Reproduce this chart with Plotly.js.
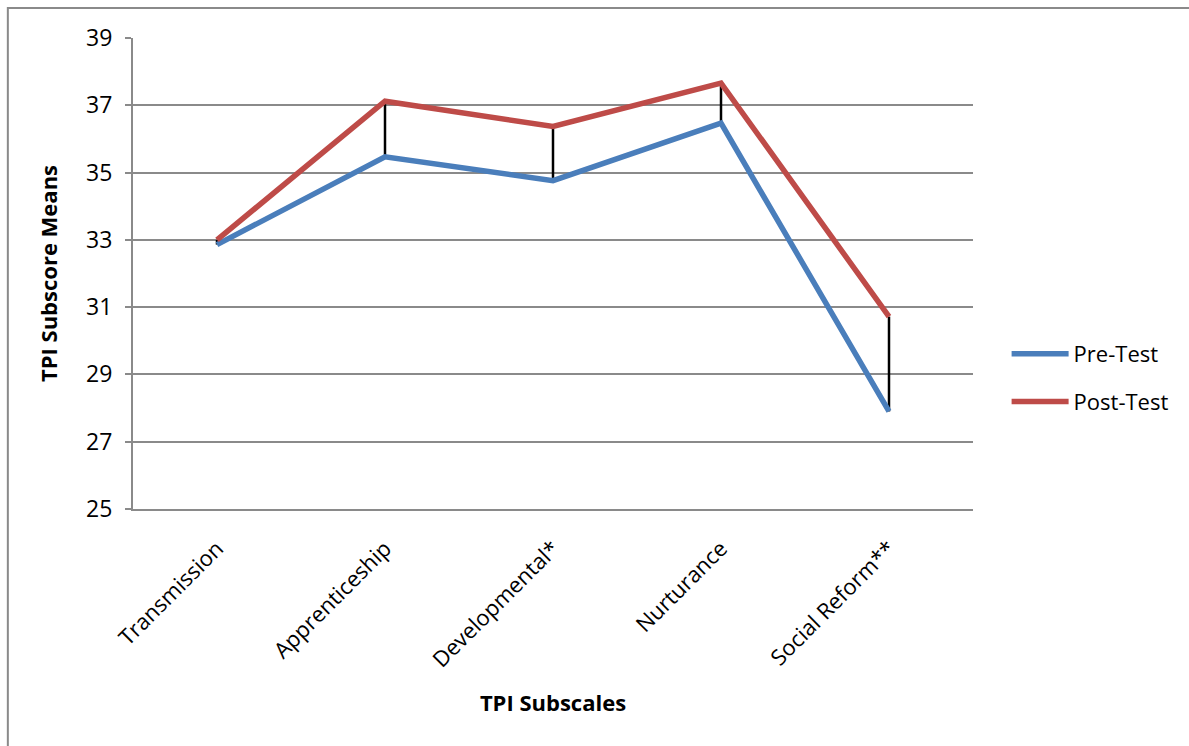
<!DOCTYPE html>
<html>
<head>
<meta charset="utf-8">
<script src="https://cdn.plot.ly/plotly-3.0.1.min.js"></script>
<style>
  html, body { margin: 0; padding: 0; background: #ffffff; }
  #chart { width: 1189px; height: 746px; }
</style>
</head>
<body>
<div id="chart"></div>
<script>
// TPI subscale means before and after the course
const subscales = ['Transmission', 'Apprenticeship', 'Developmental*', 'Nurturance', 'Social Reform**'];
const preTest  = [32.86, 35.47, 34.76, 36.47, 27.90];
const postTest = [33.00, 37.12, 36.37, 37.66, 30.72];
const yTicks = [25, 27, 29, 31, 33, 35, 37, 39];

const FONT = 'Open Sans, Noto Sans, sans-serif';
const GRID = '#8a8a8a';

// vertical connectors between pre and post values for each subscale
const linkX = [];
const linkY = [];
subscales.forEach((s, i) => {
  linkX.push(s, s, null);
  linkY.push(preTest[i], postTest[i], null);
});

const traces = [
  {
    x: linkX, y: linkY, type: 'scatter', mode: 'lines',
    line: { color: '#000000', width: 2.5 },
    showlegend: false, hoverinfo: 'skip'
  },
  {
    x: subscales, y: preTest, type: 'scatter', mode: 'lines', name: 'Pre-Test',
    legendgroup: 'pre',
    line: { color: '#4a7ebb', width: 5.5 }
  },
  {
    x: subscales, y: postTest, type: 'scatter', mode: 'lines', name: 'Post-Test',
    legendgroup: 'post',
    line: { color: '#be4b48', width: 5.5 }
  }
];

const layout = {
  width: 1189, height: 746,
  margin: { l: 133, r: 216, t: 38, b: 237 },
  paper_bgcolor: '#ffffff', plot_bgcolor: '#ffffff',
  font: { family: FONT, size: 22, color: '#000000' },
  showlegend: true,
  legend: {
    x: 1.04, y: 0.278, xanchor: 'left', yanchor: 'middle',
    font: { family: FONT, size: 22, color: '#000000' },
    traceorder: 'grouped', tracegroupgap: 16,
    itemwidth: 57,
    bgcolor: 'rgba(0,0,0,0)'
  },
  xaxis: {
    type: 'category',
    range: [-0.5, 4.5],
    showgrid: false, zeroline: false,
    showline: true, linecolor: GRID, linewidth: 2,
    ticks: '',
    tickangle: -45,
    ticklabelstandoff: 16,
    tickfont: { family: FONT, size: 22, color: '#000000' },
    title: { text: '<b>TPI Subscales</b>', font: { family: FONT, size: 22, color: '#000000' }, standoff: 23 }
  },
  yaxis: {
    range: [25, 39],
    tickvals: yTicks,
    ticktext: yTicks.map(String),
    showgrid: true, gridcolor: GRID, gridwidth: 2,
    zeroline: false,
    showline: true, linecolor: GRID, linewidth: 2,
    ticks: 'outside', ticklen: 6, tickcolor: GRID, tickwidth: 2,
    ticklabelstandoff: 8,
    tickfont: { family: FONT, size: 23, color: '#000000' },
    title: { text: '<b>TPI Subscore Means</b>', font: { family: FONT, size: 22, color: '#000000' }, standoff: 22 }
  },
  shapes: [
    {
      type: 'rect', xref: 'paper', yref: 'paper',
      x0: -0.149, x1: 1.6, y0: -1.0, y1: 1.0637,
      line: { color: GRID, width: 2 }, fillcolor: 'rgba(0,0,0,0)', layer: 'below'
    }
  ]
};

Plotly.newPlot('chart', traces, layout, { displayModeBar: false, staticPlot: true });
</script>
</body>
</html>
